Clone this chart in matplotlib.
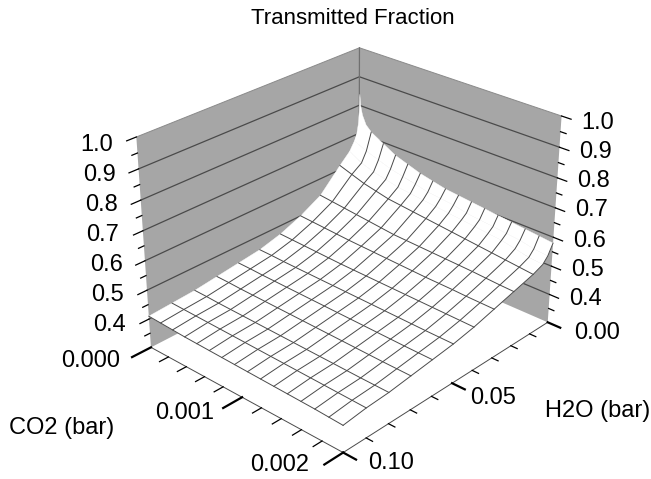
import numpy as np
import matplotlib
matplotlib.use('Agg')
import matplotlib.pyplot as plt
from mpl_toolkits.mplot3d.art3d import Poly3DCollection

plt.rcParams['font.family'] = ['Liberation Sans', 'DejaVu Sans']

# H2O pressure levels (bar) and CO2 pressure levels (bar), index into the rows below
h2o = [0.0, 0.0025, 0.005, 0.01, 0.02, 0.03, 0.04, 0.05, 0.06, 0.07, 0.08, 0.09, 0.10]
co2 = [0.0, 0.000133, 0.000267, 0.0004, 0.000533, 0.000667, 0.0008, 0.000933,
       0.001067, 0.0012, 0.001333, 0.001467, 0.0016, 0.001733, 0.001867, 0.002]

# transmitted fraction, one row per H2O level
t_h000 = [.72, .72, .695, .67, .655, .64, .63, .62, .615, .61, .605, .60, .595, .59, .585, .58]
t_h002 = [.68, .66, .645, .63, .62, .61, .60, .595, .59, .58, .575, .57, .565, .56, .55, .545]
t_h005 = [.65, .625, .61, .60, .59, .585, .58, .575, .57, .565, .56, .555, .55, .54, .53, .525]
t_h01 = [.615, .60, .585, .575, .565, .56, .555, .55, .545, .54, .535, .53, .525, .52, .515, .51]
t_h02 = [.54, .535, .53, .525, .52, .515, .51, .508, .506, .504, .502, .50, .498, .495, .492, .49]
t_h03 = [.50, .497, .494, .491, .488, .486, .484, .482, .48, .478, .476, .475, .474, .472, .471, .47]
t_h04 = [.47, .468, .466, .464, .462, .46, .459, .458, .457, .456, .455, .454, .453, .452, .451, .45]
t_h05 = [.45, .449, .447, .446, .445, .444, .443, .442, .441, .44, .439, .438, .437, .436, .4355, .435]
t_h06 = [.44, .439, .437, .436, .435, .434, .433, .432, .431, .43, .429, .428, .427, .426, .4255, .425]
t_h07 = [.43, .429, .427, .426, .425, .424, .423, .422, .421, .42, .419, .418, .417, .416, .4155, .415]
t_h08 = [.42, .419, .417, .416, .415, .414, .413, .412, .411, .41, .409, .408, .407, .406, .4055, .405]
t_h09 = [.415, .414, .413, .412, .411, .41, .409, .408, .407, .406, .405, .404, .403, .402, .401, .40]
t_h10 = [.41, .408, .406, .404, .403, .402, .401, .40, .399, .398, .397, .396, .395, .394, .392, .39]

# the cusp at the dry, CO2 free corner
cusp_h = [0.0025, 0.0015, 0.0008, 0.0003, 0.0, 0.0, 0.0, 0.0, 0.0]
cusp_c = [0.0, 0.0, 0.0, 0.0, 0.0, 0.00001, 0.00003, 0.00007, 0.000133]
cusp_t = [.68, .705, .735, .78, .84, .80, .77, .74, .72]

z_major = [0.4, 0.5, 0.6, 0.7, 0.8, 0.9, 1.0]
z_minor = [0.35, 0.45, 0.55, 0.65, 0.75, 0.85, 0.95]
co2_major = [0.0, 0.001, 0.002]
co2_minor = [0.0002, 0.0004, 0.0006, 0.0008, 0.0012, 0.0014, 0.0016, 0.0018]
h2o_major = [0.00, 0.05, 0.10]
h2o_minor = [0.01, 0.02, 0.03, 0.04, 0.06, 0.07, 0.08, 0.09]

# where the tick labels sit in the picture, pixels from top left
zleft_x = [110, 108, 107, 103, 101, 99, 97]
zleft_y = [325, 295, 265, 235, 205, 175, 145]
zright_x = [586, 588, 590, 592, 593, 596, 598]
zright_y = [299, 270, 241, 210, 181, 152, 123]
co2_lab_x = [91, 185, 280]
co2_lab_y = [361, 413, 465]
h2o_lab_x = [597, 493, 391]
h2o_lab_y = [333, 398, 463]

GREY = '#a6a6a6'
LINE = '#4a4a4a'
L, B, S = 114.73, 7.66, 461.97


def pixtext(x, y, s, size=17):
    fig.text(x / 651, 1 - y / 479, s, fontsize=size, ha='center', va='center')


fig = plt.figure(figsize=(6.51, 4.79), dpi=100)
ax = fig.add_axes([L / 651, B / 479, S / 651, S / 479], projection='3d', computed_zorder=False)
ax.set_xlim(0, .1, view_margin=0)
ax.set_ylim(0, .002, view_margin=0)
ax.set_zlim(.3, 1, view_margin=0)
ax.set_xticks([])
ax.set_yticks([])
ax.set_zticks([])
ax.view_init(28.035, 42.696)
ax.set_box_aspect((1, .8526, .7493))
ax.set_proj_type('persp', focal_length=.6405)
ax.set_axis_off()

# back walls
xmax, ymax, zmin, zmax = h2o[-1], co2[-1], .3, 1.0
walls = [[(0, 0, zmin), (xmax, 0, zmin), (xmax, 0, zmax), (0, 0, zmax)],
         [(0, 0, zmin), (0, ymax, zmin), (0, ymax, zmax), (0, 0, zmax)]]
ax.add_collection3d(Poly3DCollection(walls, facecolors=GREY, edgecolors='none', zorder=1))
for z in z_major[:-1]:
    ax.plot([xmax, 0, 0], [0, 0, ymax], [z, z, z], color=LINE, lw=.9, zorder=2)
ax.plot([xmax, 0, 0], [0, 0, ymax], [zmax, zmax, zmax], color='#8a8a8a', lw=.7, zorder=2)
ax.plot([0, 0], [0, 0], [zmin, zmax], color='#707070', lw=.9, zorder=2)

# surface
X, Y = np.meshgrid(h2o, co2, indexing='ij')
Z = np.array([t_h000, t_h002, t_h005, t_h01, t_h02, t_h03, t_h04, t_h05, t_h06, t_h07, t_h08, t_h09, t_h10])
ax.plot_surface(X, Y, Z, rstride=1, cstride=1, color='white', shade=False,
                edgecolor='white', linewidth=.3, zorder=3)
ax.add_collection3d(Poly3DCollection([list(zip(cusp_h, cusp_c, cusp_t))], facecolors='white',
                                     edgecolors='white', linewidths=.3, zorder=3))
for i in range(3, len(h2o)):
    ax.plot(X[i, :], Y[i, :], Z[i, :], color=LINE, lw=.7, zorder=4)
for j in range(1, len(co2)):
    ax.plot(X[:, j], Y[:, j], Z[:, j], color=LINE, lw=.7, zorder=4)

# floor edges
ax.plot([xmax, xmax, 0], [0, ymax, ymax], [zmin, zmin, zmin], color=LINE, lw=.7, zorder=4)

# ticks
for z in z_major + z_minor:
    big = z in z_major
    ax.plot([xmax, xmax + (.0038 if big else .0022)], [0, 0], [z, z], color='k', lw=.9, zorder=5)
    ax.plot([0, 0], [ymax, ymax + (.000085 if big else .00005)], [z, z], color='k', lw=.9, zorder=5)
for c in co2_major + co2_minor:
    big = c in co2_major
    ax.plot([xmax, xmax + (.008 if big else .0038)], [c, c], [zmin, zmin], color='k',
            lw=1.6 if big else .9, zorder=5)
for h in h2o_major + h2o_minor:
    big = h in h2o_major
    ax.plot([h, h], [ymax, ymax + (.00012 if big else .00006)], [zmin, zmin], color='k',
            lw=1.6 if big else .9, zorder=5)

# tick labels
for i, z in enumerate(z_major):
    pixtext(zleft_x[i], zleft_y[i], '%.1f' % z)
    pixtext(zright_x[i], zright_y[i], '%.1f' % z)
for i, c in enumerate(co2_major):
    pixtext(co2_lab_x[i], co2_lab_y[i], '%.3f' % c)
for i, h in enumerate(h2o_major):
    pixtext(h2o_lab_x[i], h2o_lab_y[i], '%.2f' % h)

pixtext(353, 18, 'Transmitted Fraction', 16)
pixtext(62, 428, 'CO2 (bar)', 17)
pixtext(598, 411, 'H2O (bar)', 17)

fig.savefig('out.png', dpi=100)
